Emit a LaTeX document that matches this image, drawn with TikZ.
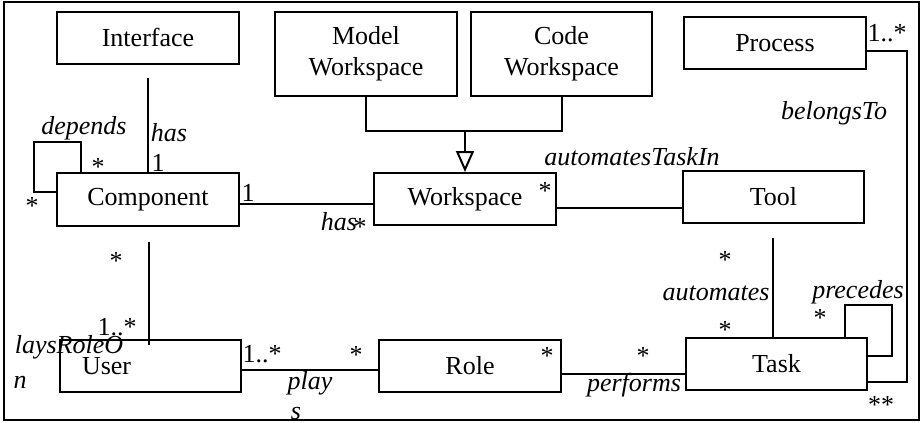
\documentclass[tikz,border=0pt]{standalone}
\usepackage{fontspec}
\setmainfont{Liberation Serif}
\usetikzlibrary{arrows.meta}
\begin{document}
\begin{tikzpicture}[x=1pt,y=-1pt,
  every node/.style={font=\fontsize{26}{31}\selectfont},
  cls/.style={draw,line width=2pt,minimum width=182pt,minimum height=52pt,inner sep=0pt,align=center},
  conn/.style={line width=2pt},
  lab/.style={inner sep=0pt,font=\fontsize{26}{31}\selectfont\itshape},
  mult/.style={inner sep=0pt,yshift=-3pt},
  inherit/.style={line width=2pt,-{Triangle[open,length=21pt,width=18pt,line width=2pt]}}]
\useasboundingbox (0,0) rectangle (924,423);
\draw[line width=2pt] (3.5,2) rectangle (919,420);
% classes
\node[cls] (iface) at (148,37.5) {Interface};
\node[cls,minimum height=84pt] (mw) at (366,54) {Model\\Workspace};
\node[cls,minimum height=84pt,minimum width=181pt] (cw) at (561.5,54) {Code\\Workspace};
\node[cls] (proc) at (775,43) {Process};
\node[cls,minimum height=53pt] (comp) at (148,199.5) {Component};
\node[cls] (ws) at (465,199) {Workspace};
\node[cls,minimum width=181pt] (tool) at (773.5,197) {Tool};
\node[cls,minimum width=181pt,text width=137pt,align=left,inner xsep=22pt] (user) at (150.5,366) {User};
\node[cls] (role) at (470,366) {Role};
\node[cls,minimum width=181pt] (task) at (776.5,364) {Task};
% connectors
\coordinate (ifend) at (148,78);
\draw[conn] (ifend) -- (comp.north);
\draw[conn] (comp.west |- 0,192) -- (34,192) -- (34,142) -- (81,142) -- (81,173);
\draw[conn] (comp.east |- 0,204) -- (ws.west |- 0,204);
\coordinate (jn) at (465,131);
\draw[conn] (mw.south) |- (jn) -| (cw.south);
\draw[inherit] (jn) -- (ws.north);
\draw[conn] (ws.east |- 0,208) -- (tool.west |- 0,208);
\coordinate (cu) at (149,242);
\draw[conn] (cu) -- (149,345);
\draw[conn] (user.east |- 0,370) -- (role.west |- 0,370);
\draw[conn] (role.east |- 0,374) -- (task.west |- 0,374);
\coordinate (tt) at (773,238);
\draw[conn] (tt) -- (tt |- task.north);
\draw[conn] (845,338) -- (845,305) -- (892,305) -- (892,356) -- (task.east |- 0,356);
\draw[conn] (proc.east |- 0,51) -- (907,51) -- (907,382) -- (task.east |- 0,382);
% labels
\node[lab] (l1) at (84,128) {depends};
\node[lab] (l2) at (169,133) {has};
\node[mult] (m1) at (98,164) {*};
\node[inner sep=0pt] (m2) at (158,163) {1};
\node[mult] (m3) at (32,203) {*};
\node[inner sep=0pt] (m4) at (248,193) {1};
\node[lab] (l3) at (339,222) {has};
\node[mult] (m5) at (360,224) {*};
\node[lab] (l4) at (632,157) {automatesTaskIn};
\node[mult] (m6) at (545,188) {*};
\node[inner sep=0pt] (m7) at (887,33) {1..*};
\node[lab] (l5) at (834,113) {belongsTo};
\node[mult] (m8) at (116,258) {*};
\node[inner sep=0pt] (m9) at (117,327) {1..*};
\node[lab] (l6) at (69,347) {laysRoleO};
\node[lab] (l7) at (20,382) {n};
\node[inner sep=0pt] (m10) at (262,354) {1..*};
\node[lab] (l8) at (310,383) {play};
\node[lab] (l9) at (296,413) {s};
\node[mult] (m11) at (356,352) {*};
\node[mult] (m12) at (547,353) {*};
\node[lab] (l10) at (634,385) {performs};
\node[mult] (m13) at (643,353) {*};
\node[mult] (m14) at (725,257) {*};
\node[lab] (l11) at (716,293) {automates};
\node[mult] (m15) at (725,327) {*};
\node[lab] (l12) at (858,292) {precedes};
\node[mult] (m16) at (820,315) {*};
\node[mult] (m17) at (881,402) {**};
\end{tikzpicture}
\end{document}
